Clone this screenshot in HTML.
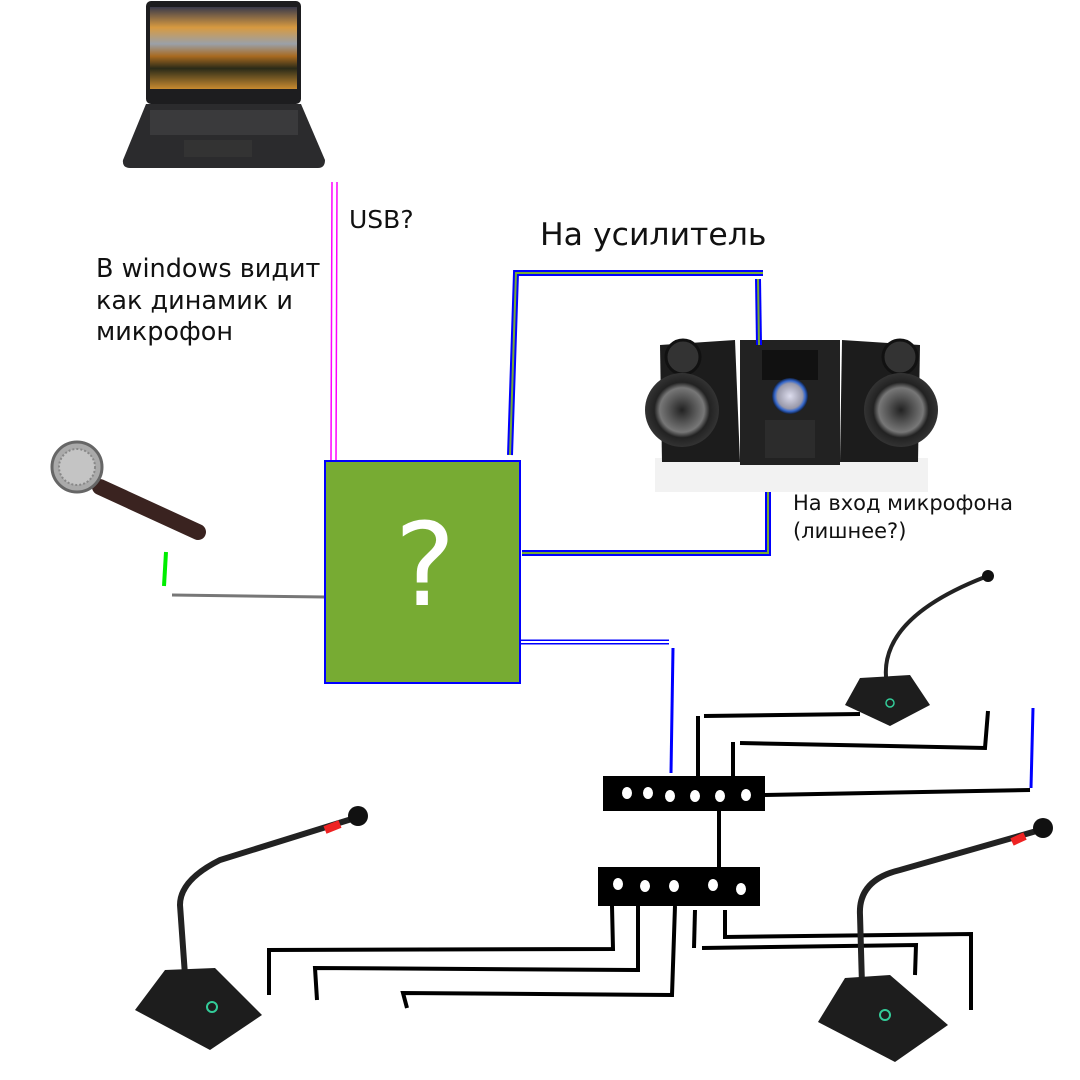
<!DOCTYPE html>
<html><head><meta charset="utf-8"><style>
html,body{margin:0;padding:0;background:#fff;}
svg{display:block;}
text{font-family:"DejaVu Sans","Liberation Sans",sans-serif;}
</style></head><body>
<svg width="1080" height="1080" viewBox="0 0 1080 1080" xmlns="http://www.w3.org/2000/svg">
<defs>
<linearGradient id="scr" x1="0" y1="0" x2="0" y2="1">
<stop offset="0" stop-color="#3a3a4a"/><stop offset="0.25" stop-color="#d89a40"/><stop offset="0.45" stop-color="#9aa0a8"/><stop offset="0.6" stop-color="#a86a20"/><stop offset="0.75" stop-color="#2a2a18"/><stop offset="1" stop-color="#c88a30"/>
</linearGradient>
<radialGradient id="spk"><stop offset="0" stop-color="#222"/><stop offset="0.35" stop-color="#555"/><stop offset="0.6" stop-color="#777"/><stop offset="0.75" stop-color="#222"/><stop offset="1" stop-color="#333"/></radialGradient>
<radialGradient id="knob"><stop offset="0" stop-color="#dde"/><stop offset="0.7" stop-color="#99a"/><stop offset="0.85" stop-color="#36c"/><stop offset="1" stop-color="#124"/></radialGradient>
</defs>

<!-- laptop -->
<rect x="146" y="1" width="155" height="103" rx="5" fill="#1d1d1f"/>
<rect x="150" y="7" width="147" height="82" fill="url(#scr)"/>
<path d="M146 104 L301 104 L325 160 Q325 168 318 168 L130 168 Q122 168 123 160 Z" fill="#2b2b2d"/>
<rect x="150" y="110" width="148" height="25" fill="#3a3a3c"/>
<rect x="184" y="140" width="68" height="17" fill="#333"/>

<!-- pink usb -->
<line x1="332" y1="182" x2="331" y2="460" stroke="#f0f" stroke-width="1.5"/>
<line x1="337" y1="182" x2="336" y2="460" stroke="#f0f" stroke-width="1.5"/>

<text x="349" y="228" font-size="25" fill="#111">USB?</text>
<text x="540" y="245" font-size="31.5" fill="#111">На усилитель</text>
<text font-size="25.5" fill="#111"><tspan x="96" y="277">В windows видит</tspan><tspan x="96" y="309">как динамик и</tspan><tspan x="96" y="340">микрофон</tspan></text>
<text font-size="21" fill="#111"><tspan x="793" y="510">На вход микрофона</tspan><tspan x="793" y="538">(лишнее?)</tspan></text>

<!-- stereo -->
<rect x="655" y="458" width="273" height="34" fill="#f2f2f2"/>
<path d="M660 345 L735 340 L740 462 L662 462 Z" fill="#1c1c1c"/>
<path d="M842 340 L920 345 L918 462 L840 462 Z" fill="#1c1c1c"/>
<circle cx="683" cy="357" r="17" fill="#333" stroke="#111" stroke-width="3"/>
<circle cx="900" cy="357" r="17" fill="#333" stroke="#111" stroke-width="3"/>
<circle cx="682" cy="410" r="37" fill="url(#spk)"/>
<circle cx="901" cy="410" r="37" fill="url(#spk)"/>
<rect x="740" y="340" width="100" height="125" fill="#222"/>
<rect x="762" y="350" width="56" height="30" fill="#111"/>
<circle cx="790" cy="396" r="18" fill="url(#knob)"/>
<rect x="765" y="420" width="50" height="38" fill="#2c2c2c"/>

<!-- handheld mic -->
<line x1="100" y1="487" x2="198" y2="532" stroke="#3a2320" stroke-width="16" stroke-linecap="round"/>
<circle cx="77" cy="467" r="25" fill="#aaa" stroke="#666" stroke-width="3"/>
<circle cx="77" cy="467" r="18" fill="#c4c4c4" stroke="#888" stroke-width="2" stroke-dasharray="2 2"/>
<line x1="166" y1="552" x2="164" y2="586" stroke="#0e0" stroke-width="4"/>
<line x1="172" y1="595" x2="325" y2="597" stroke="#777" stroke-width="3"/>

<!-- green box -->
<rect x="325" y="461" width="195" height="222" fill="#77ab33" stroke="#00f" stroke-width="2"/>
<text x="425" y="605" font-size="115" fill="#fff" text-anchor="middle">?</text>

<!-- blue-green cables -->
<g fill="none" stroke-linejoin="miter">
<path d="M510 455 L516 273 L763 273" stroke="#00f" stroke-width="6"/>
<path d="M510 455 L516 273 L763 273" stroke="#77ab33" stroke-width="2"/>
<path d="M758 279 L759 345" stroke="#00f" stroke-width="6"/>
<path d="M758 279 L759 345" stroke="#77ab33" stroke-width="2"/>
<path d="M522 553 L768 553 L768 492" stroke="#00f" stroke-width="6"/>
<path d="M522 553 L768 553 L768 492" stroke="#77ab33" stroke-width="2"/>
<path d="M521 642 L669 642" stroke="#00f" stroke-width="5"/>
<path d="M521 642 L669 642" stroke="#fff" stroke-width="2"/>
<path d="M673 648 L671 773" stroke="#00f" stroke-width="3"/>
<path d="M1033 708 L1031 788" stroke="#00f" stroke-width="3"/>
</g>

<!-- black wiring -->
<g fill="none" stroke="#000" stroke-width="4">
<path d="M698 776 L698 716"/><path d="M704 716 L860 714"/>
<path d="M733 776 L733 742"/><path d="M740 743 L985 748 L988 711"/>
<path d="M765 795 L1030 790"/>
<path d="M719 811 L719 867"/>
<path d="M612 906 L613 949 L269 950 L269 995"/>
<path d="M638 906 L638 970 L315 968 L317 1000"/>
<path d="M675 906 L672 995 L403 993 L407 1008"/>
<path d="M695 910 L694 948"/>
<path d="M702 948 L916 945 L915 975"/>
<path d="M725 910 L725 937 L971 934 L971 1010"/>
</g>

<!-- switches -->
<rect x="603" y="776" width="162" height="35" fill="#000"/>
<g fill="#fff"><ellipse cx="627" cy="793" rx="5" ry="6"/><ellipse cx="648" cy="793" rx="5" ry="6"/><ellipse cx="670" cy="796" rx="5" ry="6"/><ellipse cx="695" cy="796" rx="5" ry="6"/><ellipse cx="720" cy="796" rx="5" ry="6"/><ellipse cx="746" cy="795" rx="5" ry="6"/></g>
<rect x="598" y="867" width="162" height="39" fill="#000"/>
<g fill="#fff"><ellipse cx="618" cy="884" rx="5" ry="6"/><ellipse cx="645" cy="886" rx="5" ry="6"/><ellipse cx="674" cy="886" rx="5" ry="6"/><ellipse cx="713" cy="885" rx="5" ry="6"/><ellipse cx="741" cy="889" rx="5" ry="6"/></g>

<!-- desk mic top right -->
<path d="M887 685 Q875 620 985 577" fill="none" stroke="#222" stroke-width="4"/>
<circle cx="988" cy="576" r="6" fill="#111"/>
<path d="M860 678 L910 675 L930 705 L890 726 L845 705 Z" fill="#1d1d1d"/>
<circle cx="890" cy="703" r="4" fill="none" stroke="#3c9" stroke-width="1.5"/>

<!-- desk mic bottom left -->
<path d="M185 975 L180 905 Q180 880 220 860 L355 818" fill="none" stroke="#222" stroke-width="6"/>
<line x1="325" y1="830" x2="340" y2="824" stroke="#e22" stroke-width="8"/>
<circle cx="358" cy="816" r="10" fill="#111"/>
<path d="M165 970 L215 968 L262 1015 L210 1050 L135 1010 Z" fill="#1d1d1d"/>
<circle cx="212" cy="1007" r="5" fill="none" stroke="#3c9" stroke-width="2"/>

<!-- desk mic bottom right -->
<path d="M862 985 L860 915 Q858 880 900 870 L1040 830" fill="none" stroke="#222" stroke-width="6"/>
<line x1="1012" y1="842" x2="1025" y2="836" stroke="#e22" stroke-width="8"/>
<circle cx="1043" cy="828" r="10" fill="#111"/>
<path d="M845 978 L890 975 L948 1025 L895 1062 L818 1022 Z" fill="#1d1d1d"/>
<circle cx="885" cy="1015" r="5" fill="none" stroke="#3c9" stroke-width="2"/>
</svg>
</body></html>
